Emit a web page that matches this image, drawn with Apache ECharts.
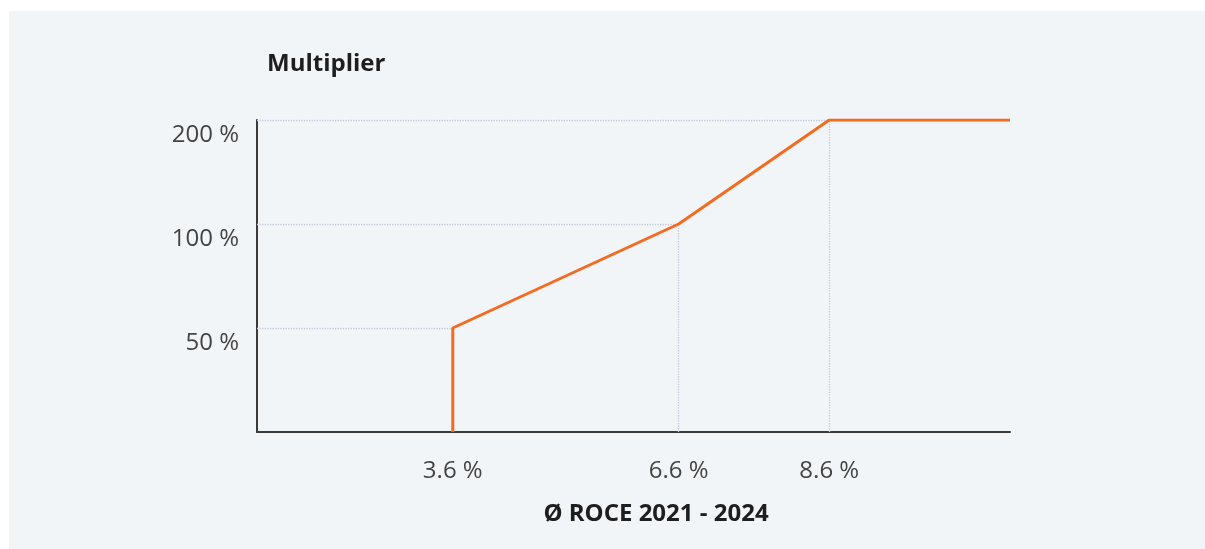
<!DOCTYPE html>
<html>
<head>
<meta charset="utf-8">
<title>Multiplier vs. ROCE</title>
<script src="https://cdn.jsdelivr.net/npm/echarts@6/dist/echarts.min.js"></script>
<style>
  html, body { margin: 0; padding: 0; background: #ffffff; }
  #panel { position: absolute; left: 9px; top: 11px; right: 0; bottom: 0; background: #f2f5f7; }
  #chart { position: absolute; left: 0; top: 0; width: 1205px; height: 549px; }
</style>
</head>
<body>
<div id="panel"></div>
<div id="chart"></div>
<script>
// Payout curve: average ROCE (%) against the multiplier (%)
const roce = [3.6, 3.6, 6.6, 8.6, 11];
const multiplier = [0, 50, 100, 200, 200];
// Multiplier levels shown as evenly spaced steps on the vertical axis
const yLevels = [0, 50, 100, 200];
// ROCE thresholds labelled on the horizontal axis
const xTicks = [3.6, 6.6, 8.6];

const xMin = 1;
const xMax = 11;
const orange = '#f26b21';
const guide = { color: '#c2c9d7', type: 'dotted', width: 1.3 };

const levelIndex = v => yLevels.indexOf(v);
const points = roce.map((x, i) => [x, levelIndex(multiplier[i])]);

// Dotted guides from both axes to each threshold point
const guides = [];
roce.forEach((x, i) => {
  const y = levelIndex(multiplier[i]);
  if (multiplier[i] > 0 && xTicks.includes(x)) {
    guides.push([{ coord: [xMin, y] }, { coord: [x, y] }]);
    guides.push([{ coord: [x, 0] }, { coord: [x, y] }]);
  }
});

const chart = echarts.init(document.getElementById('chart'), null, { renderer: 'canvas' });
chart.setOption({
  backgroundColor: 'transparent',
  animation: false,
  title: {
    text: 'Multiplier',
    left: 262,
    top: 47,
    textStyle: { fontFamily: 'Open Sans', fontWeight: 'bold', fontSize: 24, color: '#1e1e1e' }
  },
  grid: { left: 257, right: 195, top: 120, bottom: 117 },
  xAxis: {
    type: 'value',
    min: xMin,
    max: xMax,
    splitLine: { show: false },
    axisTick: { show: false },
    axisLine: { show: true, lineStyle: { color: '#3a3a3a', width: 2 } },
    axisLabel: {
      customValues: xTicks,
      formatter: v => v.toFixed(1) + ' %',
      fontFamily: 'Open Sans',
      fontSize: 24,
      color: '#444',
      margin: 27
    },
    name: 'Ø ROCE 2021 - 2024',
    nameLocation: 'middle',
    nameGap: 70,
    nameTextStyle: {
      fontFamily: 'Open Sans', fontWeight: 'bold', fontSize: 24, color: '#1e1e1e',
      padding: [0, 0, 0, 45]
    }
  },
  yAxis: {
    type: 'value',
    min: 0,
    max: yLevels.length - 1,
    interval: 1,
    splitLine: { show: false },
    axisTick: { show: false },
    axisLine: { show: true, lineStyle: { color: '#3a3a3a', width: 2 } },
    axisLabel: {
      formatter: v => (v === 0 ? '' : yLevels[v] + ' %'),
      fontFamily: 'Open Sans',
      fontSize: 24,
      color: '#444',
      margin: 18,
      verticalAlign: 'top',
      padding: [3, 0, 0, 0]
    }
  },
  series: [{
    type: 'line',
    data: points,
    showSymbol: false,
    symbol: 'none',
    lineStyle: { color: orange, width: 3 },
    z: 5,
    markLine: {
      silent: true,
      symbol: 'none',
      label: { show: false },
      lineStyle: guide,
      z: 1,
      data: guides
    }
  }]
});
</script>
</body>
</html>
